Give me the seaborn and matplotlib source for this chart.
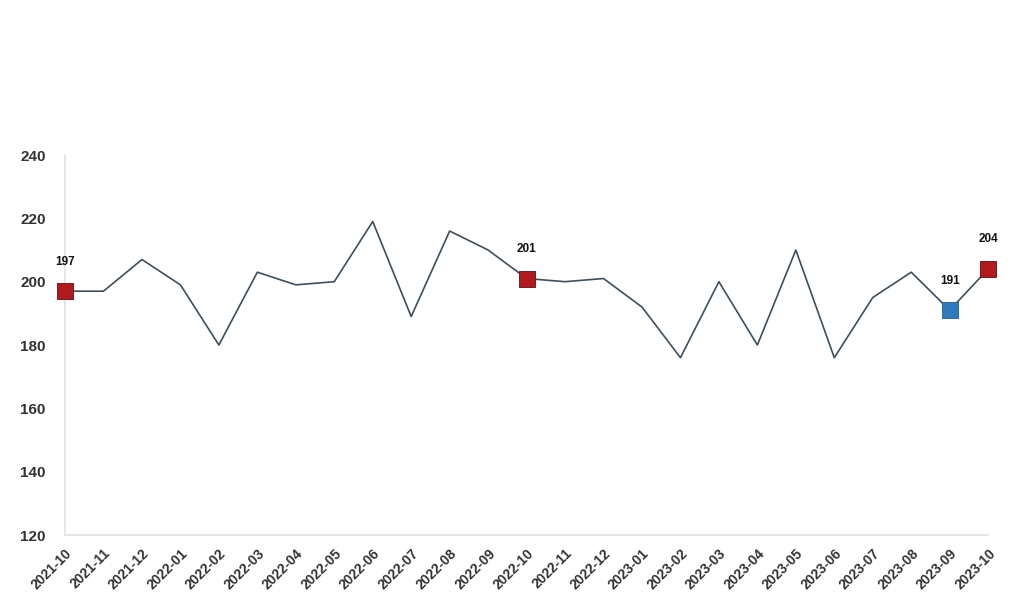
import numpy as np
import pandas as pd
import matplotlib
matplotlib.use('Agg')
import matplotlib.pyplot as plt
import seaborn as sns

months = ['2021-10', '2021-11', '2021-12', '2022-01', '2022-02', '2022-03', '2022-04',
          '2022-05', '2022-06', '2022-07', '2022-08', '2022-09', '2022-10', '2022-11',
          '2022-12', '2023-01', '2023-02', '2023-03', '2023-04', '2023-05', '2023-06',
          '2023-07', '2023-08', '2023-09', '2023-10']
values = [197, 197, 207, 199, 180, 203, 199, 200, 219, 189, 216, 210, 201, 200,
          201, 192, 176, 200, 180, 210, 176, 195, 203, 191, 204]

# highlighted points: (month, colour)
hl_months = ['2021-10', '2022-10', '2023-09', '2023-10']
hl_colors = ['#b2191c', '#b2191c', '#2f7bc0', '#b2191c']

sns.set_style('white')
plt.rcParams['font.family'] = ['Liberation Sans', 'DejaVu Sans']

df = pd.DataFrame({'month': months, 'value': values, 'x': np.arange(len(months))})

fig = plt.figure(figsize=(10.24, 6.07), dpi=100)
ax = fig.add_axes([0.0635, 0.1186, 0.9015, 0.626])

sns.lineplot(data=df, x='x', y='value', color='#3e4f5c', linewidth=1.2, ax=ax)

hl = df[df['month'].isin(hl_months)].copy()
hl['c'] = hl_colors
for _, r in hl.iterrows():
    sns.scatterplot(x=[r['x']], y=[r['value']], marker='s', s=130, color=r['c'],
                    edgecolor='#5a1010' if r['c'] == '#b2191c' else '#1f5a90',
                    linewidth=0.6, ax=ax, zorder=5, clip_on=False)
    ax.annotate(str(r['value']), (r['x'], r['value']), xytext=(0, 17),
                textcoords='offset points', ha='center', va='bottom',
                fontsize=8.5, fontweight='bold', color='#111111')

ax.set_xlim(0, len(months) - 1)
ax.set_ylim(120, 240)
ax.set_yticks([120, 140, 160, 180, 200, 220, 240])
ax.set_xticks(df['x'])
ax.set_xticklabels(months, rotation=45, ha='right', rotation_mode='anchor')
ax.tick_params(axis='both', colors='#333333', length=0)
ax.tick_params(axis='y', labelsize=11, pad=14)
ax.tick_params(axis='x', labelsize=10, pad=8)
for lab in ax.get_xticklabels() + ax.get_yticklabels():
    lab.set_fontweight('bold')
ax.set_xlabel('')
ax.set_ylabel('')

for s in ['top', 'right']:
    ax.spines[s].set_visible(False)
for s in ['left', 'bottom']:
    ax.spines[s].set_color('#e2e2e2')
    ax.spines[s].set_linewidth(1.2)

fig.savefig('out.png', dpi=100, facecolor='white')
